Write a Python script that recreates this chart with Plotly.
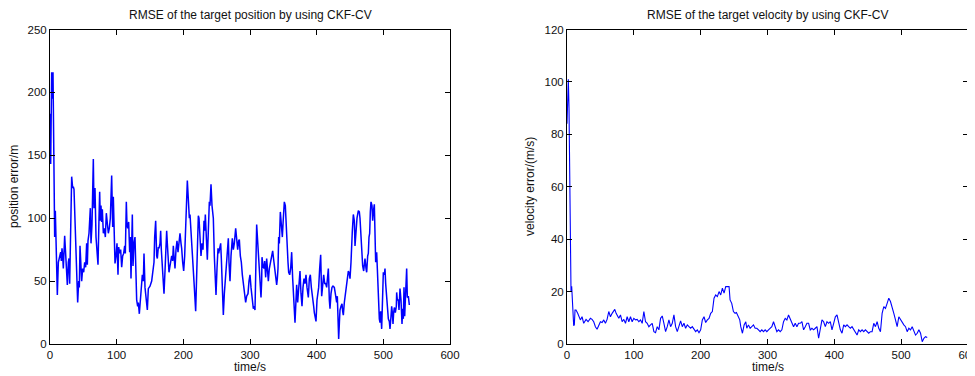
import plotly.graph_objects as go

# ---- Data: position RMSE (left) ----
pos_t = [0, 1, 2.5, 3.5, 4.5, 5.5, 7, 8, 9, 11, 12.5, 14, 16, 17, 18, 19, 20, 22, 23, 24.5,
         26, 27.5, 28.5, 29.5, 31, 32.5, 34, 35, 36, 38, 40, 41.5, 43, 44, 45, 46.5, 47.5, 49, 50.5, 52,
         53.5, 55, 56, 57, 58.5, 60.5, 61.5, 63, 65, 66, 67.5, 69, 70.5, 72, 73.5, 74.5, 75.5, 76.5, 77.5, 78.5,
         80, 81.5, 83, 84.5, 86, 87.5, 89, 90.5, 92.5, 93.5, 94, 95, 96.5, 97.5, 99, 100.5, 102, 103, 104.5, 106,
         107.5, 109, 110.5, 112, 113, 114.5, 115.5, 116.5, 118, 119.5, 120.5, 121.5, 123.5, 124.5, 126, 127.5, 129, 130, 131.5, 132.5,
         134, 135.5, 137, 138.5, 140, 141, 142.5, 144.5, 146, 147.5, 149, 150, 152.5, 154, 156, 157, 158.5, 160, 161, 162.5,
         163.5, 165, 166, 167, 168.5, 170, 171, 172.5, 174, 175, 176, 177, 178.5, 180, 181, 182.5, 184, 185, 186, 187.5,
         189, 190.5, 192, 193, 195, 196.5, 197.5, 199, 200.5, 202, 203.5, 204.5, 206, 207.5, 209, 210, 211.5, 213, 214, 215,
         216.5, 218.5, 220, 221, 222.5, 223.5, 225, 226.5, 228, 229.5, 231, 232, 233, 234.5, 236, 237.5, 239, 240, 241.5, 243,
         245, 246.5, 248, 249, 250.5, 252, 253, 254.5, 256, 257, 258.5, 260, 261.5, 263, 265, 266, 267.5, 268.5, 270, 271.5,
         273.5, 275, 276.5, 278.5, 280, 281.5, 283, 284, 285.5, 287, 288.5, 290, 291.5, 293.5, 295, 297, 298.5, 300, 301.5, 303,
         305, 306, 307.5, 310, 311.5, 313, 314.5, 316.5, 317.5, 318, 319.5, 321, 322, 323.5, 325, 326, 327.5, 329, 330.5, 332.5,
         334, 335.5, 337, 338.5, 340, 341, 342, 343, 344, 345.5, 347, 348.5, 350, 351.5, 353, 354, 355.5, 357, 358, 359.5,
         361, 362.5, 364, 365.5, 367.5, 369, 370, 371.5, 373, 375, 376.5, 378, 379.5, 381, 382.5, 384, 385.5, 387.5, 389, 390.5,
         392, 394, 395.5, 396.5, 398, 399, 400.5, 402, 403, 404.5, 406, 407.5, 409, 410.5, 412, 413.5, 415, 416.5, 417.5, 419,
         420, 421.5, 423, 424.5, 426.5, 428, 430, 431, 432, 433, 434.5, 435, 436.5, 438, 439, 440, 441.5, 443, 444.5, 446,
         447.5, 449, 450, 451.5, 452.5, 453.5, 455, 456.5, 457.5, 459, 460.5, 462.5, 464, 465, 466.5, 468, 469, 470.5, 471.5, 472.5,
         474, 475, 476.5, 477.5, 478.5, 479.5, 480.5, 481.5, 483, 484, 485, 486.5, 488.5, 490, 491, 492.5, 494, 495, 496, 497.5,
         499, 500, 501.5, 502.5, 503.5, 505, 506, 507.5, 509, 510, 511.5, 512.5, 513.5, 514.5, 515.5, 516.5, 518, 519.5, 520, 521,
         522.5, 523.5, 525, 526.5, 528, 529, 530, 531, 532, 533.5, 535, 536, 537.5, 539]
pos_v = [183, 143, 216, 195, 216, 150, 85, 106, 85, 39, 65, 68, 73, 66, 76, 70, 60, 86, 75, 55,
         47, 65, 68, 48, 100, 133, 124, 125, 123, 85, 50, 33, 50, 45, 78, 55, 50, 60, 57, 65,
         61, 80, 63, 82, 88, 108, 80, 95, 147, 108, 124, 85, 75, 63, 100, 121, 98, 110, 97, 107,
         88, 92, 85, 104, 96, 88, 92, 100, 134, 110, 93, 117, 85, 64, 70, 80, 55, 77, 72, 75,
         61, 70, 72, 78, 72, 113, 95, 92, 97, 73, 85, 52, 103, 62, 80, 85, 55, 35, 30, 33,
         24, 33, 46, 55, 50, 72, 45, 35, 27, 44, 45, 46, 50, 55, 65, 85, 98, 70, 68, 77,
         76, 80, 90, 75, 60, 50, 40, 58, 75, 90, 80, 65, 57, 62, 65, 70, 66, 78, 70, 60,
         75, 82, 73, 80, 88, 80, 76, 65, 58, 70, 100, 110, 130, 115, 100, 103, 87, 78, 65, 60,
         45, 26, 60, 90, 102, 100, 88, 70, 80, 75, 98, 90, 103, 80, 67, 90, 113, 110, 127, 110,
         100, 70, 55, 39, 60, 76, 72, 75, 80, 68, 45, 23, 40, 50, 60, 70, 84, 65, 50, 70,
         84, 75, 80, 92, 80, 75, 82, 83, 70, 65, 55, 47, 44, 33, 38, 40, 50, 55, 45, 38,
         28, 30, 27, 95, 80, 70, 55, 37, 50, 69, 62, 60, 66, 53, 68, 60, 50, 60, 65, 72,
         74, 67, 60, 55, 47, 52, 60, 85, 80, 105, 95, 85, 100, 113, 110, 95, 86, 65, 57, 55,
         60, 73, 52, 40, 17, 35, 47, 33, 45, 58, 40, 30, 45, 52, 48, 55, 45, 37, 52, 55,
         45, 38, 30, 25, 22, 18, 35, 40, 45, 60, 71, 38, 45, 55, 48, 48, 45, 55, 60, 35,
         28, 40, 45, 46, 45, 40, 33, 38, 25, 4, 22, 27, 30, 32, 26, 23, 33, 40, 48, 55,
         58, 56, 52, 65, 88, 90, 103, 98, 78, 95, 100, 106, 105, 100, 85, 70, 62, 58, 68, 68,
         60, 57, 70, 72, 85, 88, 105, 113, 110, 98, 105, 111, 65, 73, 60, 35, 20, 17, 26, 12,
         40, 57, 55, 60, 48, 35, 30, 20, 18, 12, 22, 30, 25, 16, 25, 29, 25, 30, 41, 35,
         35, 27, 44, 35, 16, 28, 20, 45, 22, 48, 60, 37, 38, 31]

# ---- Data: velocity RMSE (right) ----
vel_t = [0, 1, 2, 3, 4, 5, 6, 7, 8.5, 10, 11, 12, 13.5, 16, 17.5, 20, 22.5, 25, 28.5, 31.5,
         35, 37.5, 40, 42.5, 45, 47.5, 50, 52.5, 55, 57.5, 60, 62.5, 65, 67.5, 71.5, 73.5, 75, 77.5, 80, 82.5,
         85, 87.5, 90, 92.5, 95, 97.5, 100, 102.5, 105, 107.5, 110, 112.5, 115, 117.5, 120, 122.5, 125, 127.5, 130, 132.5,
         135, 137.5, 140, 142.5, 145, 147.5, 150, 152.5, 155, 157.5, 160, 162.5, 165, 167.5, 170, 172.5, 175, 177.5, 180, 182.5,
         185, 187.5, 190, 192.5, 195, 197.5, 200, 202.5, 205, 207.5, 210, 212.5, 215, 217.5, 220, 222.5, 225, 227.5, 230, 232.5,
         235, 237.5, 240, 242.5, 244, 246.5, 249, 251.5, 253.5, 256.5, 258.5, 260, 262.5, 265, 267.5, 269, 271.5, 274, 276.5, 279,
         281.5, 284, 286.5, 289, 291.5, 294, 296.5, 299, 301.5, 304, 306.5, 309, 311.5, 314, 316.5, 319, 321.5, 324, 326.5, 329,
         331.5, 334, 336.5, 339, 341.5, 344, 346.5, 349, 351.5, 354, 356.5, 359, 361.5, 364, 366.5, 369, 371.5, 374, 376.5, 379,
         381.5, 384, 386.5, 389, 391.5, 394, 396.5, 399, 401.5, 404, 406.5, 409, 411.5, 414, 416.5, 419, 421.5, 424, 426.5, 429,
         431.5, 434, 436.5, 439, 441.5, 444, 446.5, 449, 451.5, 454, 456.5, 459, 461.5, 464, 466.5, 469, 471.5, 474, 476.5, 479,
         481.5, 484, 486.5, 489, 491.5, 494, 496.5, 499, 501.5, 504, 506.5, 509, 511.5, 514, 516.5, 519, 521.5, 524, 526.5, 529,
         531.5, 534, 536.5, 539]
vel_v = [84, 95, 101, 90, 55, 29, 20, 22, 15.5, 7, 7.3, 13, 13, 11.7, 10.4, 9.2, 10.4, 7.9, 9.4, 8.5,
         9.8, 9.4, 8.5, 6.6, 5.6, 7.3, 8.5, 8.2, 9.2, 7.9, 9.4, 12.4, 10.4, 11.7, 13.2, 11.7, 11.1, 9.8, 11.1, 8.5,
         9.4, 7.9, 10.4, 8.5, 10.4, 8.5, 9.8, 9.2, 9.4, 8.5, 9.2, 7.9, 12.4, 8.5, 7.9, 6.6, 7.3, 7.9, 4.7, 4.3,
         6.6, 5.4, 9.8, 10.7, 7.9, 4.7, 6.6, 9.2, 6.6, 7.9, 11.1, 6.6, 4.7, 7.3, 8.8, 6.6, 7.9, 6.0, 7.3, 6.6,
         6.0, 6.6, 5.4, 4.7, 5.4, 4.3, 5.4, 9.2, 10.4, 8.2, 9.2, 9.8, 11.7, 12.4, 17.5, 18.7, 18.1, 20, 18.7, 21.3,
         19.4, 21.9, 21.9, 21.9, 16.8, 15.5, 12.4, 11.7, 12.0, 9.8, 9.2, 6.6, 4.1, 7.3, 8.5, 6.0, 7.3, 6.0, 6.6, 7.3,
         6.0, 6.0, 5.4, 4.7, 5.4, 4.7, 5.4, 4.7, 5.4, 6.0, 6.6, 8.5, 6.6, 4.7, 5.4, 4.7, 5.4, 8.5, 9.8, 9.2,
         11.1, 9.8, 7.9, 6.6, 7.9, 6.6, 7.9, 7.9, 8.5, 5.4, 6.6, 7.9, 7.9, 5.4, 6.0, 5.4, 6.0, 6.6, 2.2, 6.6,
         9.2, 8.5, 6.6, 8.5, 7.9, 8.5, 5.4, 7.9, 10.4, 11.1, 7.9, 5.4, 4.1, 7.3, 6.6, 7.3, 6.6, 6.0, 6.6, 5.4,
         4.7, 3.4, 5.4, 4.7, 5.4, 4.7, 5.4, 4.7, 4.1, 4.7, 4.7, 7.9, 6.6, 8.5, 6.0, 4.7, 11.7, 14.3, 13.6, 15.5,
         17.5, 16.2, 14.3, 11.7, 9.2, 6.6, 10.4, 9.2, 7.9, 7.3, 6.6, 4.7, 6.0, 5.4, 6.6, 4.7, 3.4, 4.1, 5.4, 4.1,
         0.9, 2.2, 2.8, 2.5]

titles = ["RMSE of the target position by using CKF-CV",
          "RMSE of the target velocity by using CKF-CV"]
xlabel = "time/s"
ylabels = ["position error/m", "velocity error/(m/s)"]

W, H = 975, 376
OFF = 8  # page body margin that shifts the figure in the browser
FONT = "Liberation Sans, Arial, sans-serif"

def px(x):
    return (x - OFF) / W

def py(y):
    return 1 - (y - OFF) / H

fig = go.Figure()
fig.add_trace(go.Scatter(x=pos_t, y=pos_v, mode="lines",
                         line=dict(color="#0000ff", width=1.5),
                         xaxis="x", yaxis="y", showlegend=False))
fig.add_trace(go.Scatter(x=vel_t, y=vel_v, mode="lines",
                         line=dict(color="#0000ff", width=1.1),
                         xaxis="x2", yaxis="y2", showlegend=False))

axis_common = dict(showgrid=False, zeroline=False, showline=True, linecolor="black",
                   linewidth=1, mirror="ticks", ticks="inside", ticklen=5, automargin=False,
                   tickcolor="black", tickfont=dict(family=FONT, size=11.5, color="#111"))

ytop = py(29.5)
ybot = py(344)
fig.update_layout(
    template="none",
    width=W, height=H,
    margin=dict(l=0, r=0, t=0, b=0, pad=0, autoexpand=False),
    paper_bgcolor="white", plot_bgcolor="white",
    xaxis=dict(domain=[px(50), px(450)], range=[0, 600], dtick=100, anchor="y", **axis_common),
    yaxis=dict(domain=[ybot, ytop], range=[0, 250], dtick=50, anchor="x", **axis_common),
    xaxis2=dict(domain=[px(567), px(968)], range=[0, 600], dtick=100, anchor="y2", **axis_common),
    yaxis2=dict(domain=[ybot, ytop], range=[0, 120], dtick=20, anchor="x2", **axis_common),
)

ann = []
centers = [250, 767.5]
ylab_x = [14, 530]
for i in range(2):
    ann.append(dict(text=titles[i], x=px(centers[i]), y=py(15), xref="paper", yref="paper",
                    xanchor="center", yanchor="middle", showarrow=False,
                    font=dict(family=FONT, size=12, color="#111")))
    ann.append(dict(text=xlabel, x=px(centers[i]), y=py(367), xref="paper", yref="paper",
                    xanchor="center", yanchor="middle", showarrow=False,
                    font=dict(family=FONT, size=12, color="#111")))
    ann.append(dict(text=ylabels[i], x=px(ylab_x[i]), y=py(187), xref="paper", yref="paper",
                    xanchor="center", yanchor="middle", showarrow=False, textangle=-90,
                    font=dict(family=FONT, size=12, color="#111")))
fig.update_layout(annotations=ann)

fig.write_html("out.html")
